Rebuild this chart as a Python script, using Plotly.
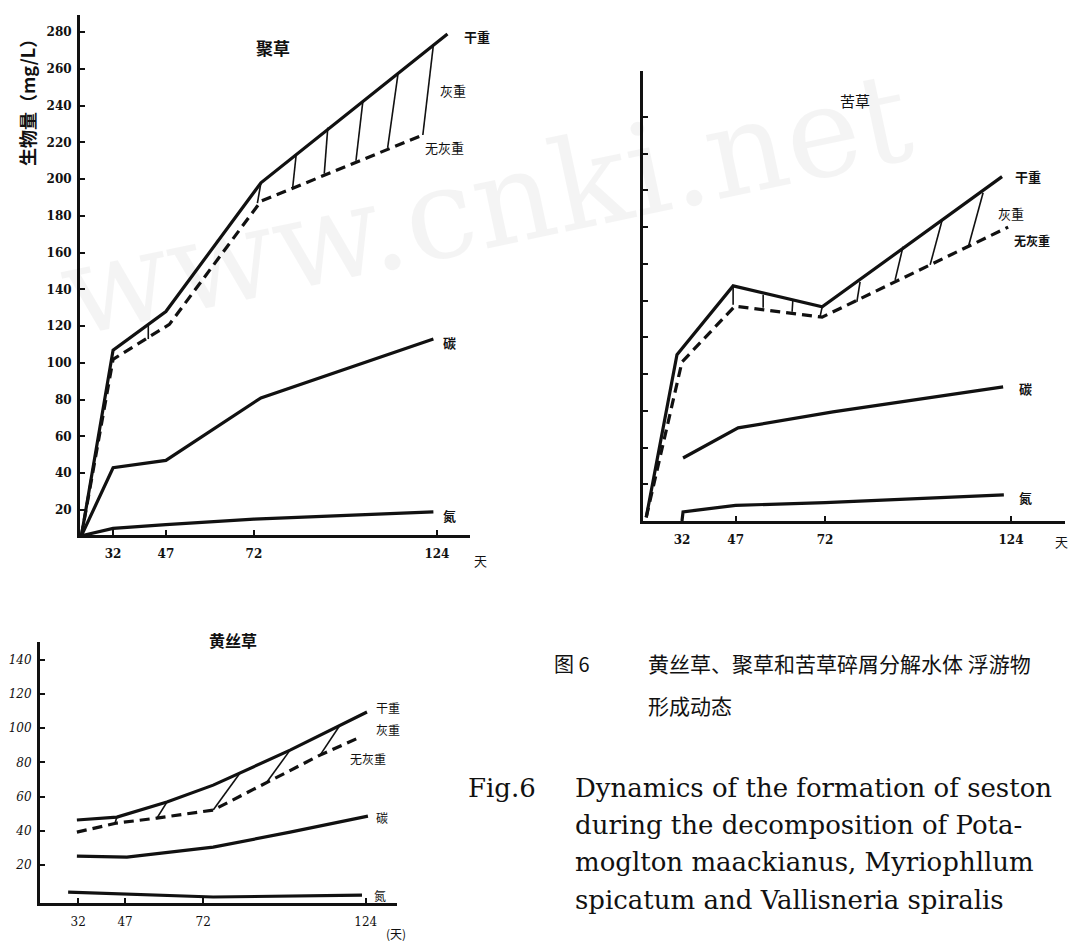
import plotly.graph_objects as go

# ---------------- data ----------------
tick_days = [32, 47, 72, 124]
tick_text = ["32", "47", "72", "124"]

# Panel 1: 聚草
p1_dry_days = [23, 32, 47, 74, 127]
p1_dry = [6, 107, 128, 198, 279]
p1_ashfree_days = [23, 32, 48, 74, 120]
p1_ashfree = [6, 102, 121, 188, 224]
p1_carbon_days = [23, 32, 47, 74, 123]
p1_carbon = [6, 43, 47, 81, 113]
p1_nitrogen_days = [23, 32, 47, 72, 123]
p1_nitrogen = [6, 10, 12, 15, 19]
p1_hatch_top_days = [42, 74, 84, 93, 103, 113, 123]
p1_hatch_top = [121, 198, 213, 228, 243, 258, 273]
p1_hatch_bot_days = [42, 73, 83, 92, 101, 110, 120]
p1_hatch_bot = [113, 187, 195, 203, 210, 217, 224]
p1_yticks = [20, 40, 60, 80, 100, 120, 140, 160, 180, 200, 220, 240, 260, 280]

# Panel 2: 苦草
p2_dry_days = [22, 30.6, 46.3, 71.2, 121.5]
p2_dry = [2, 90.5, 128, 116.6, 187.5]
p2_ashfree_days = [22, 32, 46.8, 71.2, 123.2]
p2_ashfree = [2, 86.6, 117, 111, 160]
p2_carbon_days = [32.3, 47.7, 74.2, 121.8]
p2_carbon = [34.3, 50.7, 59.4, 73]
p2_nitrogen_days = [32, 32.3, 47, 72, 122]
p2_nitrogen = [0, 5, 8.5, 10, 14.2]
p2_hatch_top_days = [46.3, 54.7, 63.0, 71.2, 81.8, 93.8, 104.7, 116.2]
p2_hatch_top = [127.5, 123.2, 120.4, 116.6, 130.2, 149.3, 163.5, 178.7]
p2_hatch_bot_days = [46.3, 54.7, 62.8, 70.6, 80.9, 91.6, 101.4, 112.0]
p2_hatch_bot = [117.7, 116.1, 113.9, 111.2, 119.3, 131.3, 139.5, 148.8]
p2_yticks = [20, 40, 60, 80, 100, 120, 140, 160, 180, 200, 220]

# Panel 3: 黄丝草
p3_dry_days = [31.6, 44.4, 60.4, 75.2, 99.8, 124.4]
p3_dry = [46.3, 48, 56.8, 66.7, 87.2, 109.5]
p3_ashfree_days = [31.6, 44.4, 57.2, 75.2, 109.4, 122.2]
p3_ashfree = [39.2, 44.5, 47.4, 52.1, 84.3, 94.8]
p3_carbon_days = [31.6, 47.6, 75.2, 99.8, 124.7]
p3_carbon = [25.2, 24.6, 30.4, 39.2, 48.6]
p3_nitrogen_days = [28.8, 75.2, 122.8]
p3_nitrogen = [4.1, 1.2, 2.3]
p3_hatch_top_days = [44.4, 60.4, 83.8, 99.8, 115.8]
p3_hatch_top = [48, 56.8, 73.8, 87.2, 101.9]
p3_hatch_bot_days = [43.8, 57.2, 75.2, 92.4, 109.4]
p3_hatch_bot = [44.5, 47.4, 52.1, 68.5, 84.3]
p3_yticks = [20, 40, 60, 80, 100, 120, 140]

# ---------------- layout helpers ----------------
W, H = 1074, 941


def fx(p):
    return p / W


def fy(p):
    return 1 - p / H


CJK = "Noto Sans CJK SC"
SERIF = "DejaVu Serif"
BLACK = "#111111"

fig = go.Figure()


def hatch_xy(xt, yt, xb, yb):
    xs, ys = [], []
    for a, b, c, d in zip(xt, yt, xb, yb):
        xs += [a, c, None]
        ys += [b, d, None]
    return xs, ys


def add_panel(k, dry_d, dry, af_d, af, c_d, c, n_d, n, ht_d, ht, hb_d, hb):
    xa = "x" if k == 1 else f"x{k}"
    ya = "y" if k == 1 else f"y{k}"
    common = dict(xaxis=xa, yaxis=ya, mode="lines", showlegend=False, hoverinfo="skip")
    fig.add_trace(go.Scatter(x=dry_d, y=dry, line=dict(color=BLACK, width=3.2), name="干重", **common))
    fig.add_trace(go.Scatter(x=af_d, y=af, line=dict(color=BLACK, width=3.2, dash="10px,6px"),
                             name="无灰重", **common))
    hx, hy = hatch_xy(ht_d, ht, hb_d, hb)
    fig.add_trace(go.Scatter(x=hx, y=hy, line=dict(color=BLACK, width=1.6), name="灰重", **common))
    fig.add_trace(go.Scatter(x=c_d, y=c, line=dict(color=BLACK, width=3.2), name="碳", **common))
    fig.add_trace(go.Scatter(x=n_d, y=n, line=dict(color=BLACK, width=3.2), name="氮", **common))


add_panel(1, p1_dry_days, p1_dry, p1_ashfree_days, p1_ashfree, p1_carbon_days, p1_carbon,
          p1_nitrogen_days, p1_nitrogen, p1_hatch_top_days, p1_hatch_top, p1_hatch_bot_days, p1_hatch_bot)
add_panel(2, p2_dry_days, p2_dry, p2_ashfree_days, p2_ashfree, p2_carbon_days, p2_carbon,
          p2_nitrogen_days, p2_nitrogen, p2_hatch_top_days, p2_hatch_top, p2_hatch_bot_days, p2_hatch_bot)
add_panel(3, p3_dry_days, p3_dry, p3_ashfree_days, p3_ashfree, p3_carbon_days, p3_carbon,
          p3_nitrogen_days, p3_nitrogen, p3_hatch_top_days, p3_hatch_top, p3_hatch_bot_days, p3_hatch_bot)

axis_common = dict(showgrid=False, zeroline=False, showline=True, linecolor=BLACK, linewidth=3,
                   ticks="inside", ticklen=5, tickwidth=2, tickcolor=BLACK, fixedrange=True)
xtickfont = dict(family=SERIF, size=12, color=BLACK, weight="bold")

fig.update_layout(
    width=W, height=H, margin=dict(l=0, r=0, t=0, b=0),
    paper_bgcolor="white", plot_bgcolor="rgba(0,0,0,0)",
    font=dict(family=SERIF, color=BLACK),
    xaxis=dict(domain=[fx(80), fx(470)], range=[22.6, 133.4], anchor="y",
               tickvals=tick_days, ticktext=tick_text, tickfont=xtickfont, ticklabelstandoff=6,
               **axis_common),
    yaxis=dict(domain=[fy(535), fy(15)], range=[6.4, 289.3], anchor="x",
               tickvals=p1_yticks, tickfont=dict(family=SERIF, size=12, color=BLACK, weight="bold"),
               ticklabelstandoff=3, **axis_common),
    xaxis2=dict(domain=[fx(643), fx(1065)], range=[21.1, 139.1], anchor="y2",
                tickvals=tick_days, ticktext=tick_text, tickfont=xtickfont, ticklabelstandoff=6,
                **axis_common),
    yaxis2=dict(domain=[fy(521), fy(71)], range=[0, 245], anchor="x2",
                tickvals=p2_yticks, showticklabels=False, **axis_common),
    xaxis3=dict(domain=[fx(40), fx(397)], range=[19.8, 134], anchor="y3",
                tickvals=tick_days, ticktext=tick_text,
                tickfont=dict(family=SERIF, size=12, color=BLACK), ticklabelstandoff=6,
                **axis_common),
    yaxis3=dict(domain=[fy(903), fy(642)], range=[-2.3, 150.5], anchor="x3",
                tickvals=p3_yticks, tickfont=dict(family=SERIF, size=12, color=BLACK, style="italic"),
                ticklabelstandoff=3, **axis_common),
)


def label(text, x, y, size=13, family=CJK, xanchor="left", weight="normal", angle=0, color=BLACK):
    fig.add_annotation(text=text, x=fx(x), y=fy(y), xref="paper", yref="paper", showarrow=False,
                       xanchor=xanchor, yanchor="middle", textangle=angle,
                       font=dict(family=family, size=size, color=color, weight=weight))


# watermark
label("www.cnki.net", 485, 205, size=126, family=SERIF, xanchor="center", angle=-12,
      color="rgba(0,0,0,0.045)")

# panel 1 labels
label("聚草", 273, 47, size=17, xanchor="center", weight="bold")
label("干重", 462, 37, size=13, weight="bold")
label("灰重", 438, 90, size=13)
label("无灰重", 423, 147, size=13)
label("碳", 441, 342, size=13, weight="bold")
label("氮", 441, 515, size=13, weight="bold")
label("天", 472, 560, size=13)
label("生物量（mg/L）", 27, 98, size=18, xanchor="center", weight="bold", angle=-90)

# panel 2 labels
label("苦草", 855, 100, size=15, xanchor="center")
label("干重", 1013, 177, size=13, weight="bold")
label("灰重", 996, 213, size=13)
label("无灰重", 1012, 240, size=12, weight="bold")
label("碳", 1017, 388, size=13, weight="bold")
label("氮", 1017, 497, size=13, weight="bold")
label("天", 1053, 541, size=13)

# panel 3 labels
label("黄丝草", 233, 640, size=16, xanchor="center", weight="bold")
label("干重", 374, 707, size=12)
label("灰重", 374, 729, size=12)
label("无灰重", 348, 758, size=12)
label("碳", 374, 817, size=12)
label("氮", 372, 895, size=12)
label("(天)", 384, 933, size=12)

# caption
label("图 6", 552, 663, size=20)
label("黄丝草、聚草和苦草碎屑分解水体\u00a0浮游物", 646, 663, size=21)
label("形成动态", 646, 705, size=21)
cap = dict(size=26, family=SERIF)
label("Fig.6", 466, 788, **cap)
label("Dynamics of the formation of seston", 573, 788, **cap)
label("during the decomposition of Pota-", 573, 825, **cap)
label("moglton maackianus, Myriophllum", 573, 862, **cap)
label("spicatum and Vallisneria spiralis", 573, 900, **cap)

fig.write_html("out.html")
